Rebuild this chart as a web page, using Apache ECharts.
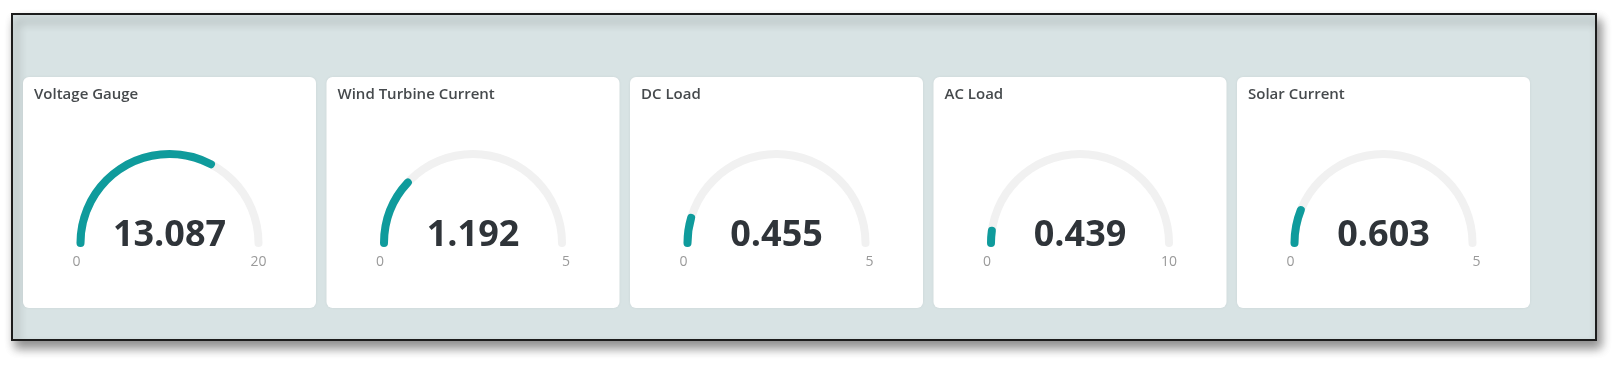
<!DOCTYPE html>
<html>
<head>
<meta charset="utf-8">
<script src="https://cdn.jsdelivr.net/npm/echarts@6/dist/echarts.min.js"></script>
<style>
html,body{margin:0;padding:0;background:#ffffff;}
#chart{width:1617px;height:371px;}
</style>
</head>
<body>
<div id="chart"></div>
<script>
const titles = ['Voltage Gauge', 'Wind Turbine Current', 'DC Load', 'AC Load', 'Solar Current'];
const values = [13.087, 1.192, 0.455, 0.439, 0.603];
const minTicks = [0, 0, 0, 0, 0];
const maxTicks = [20, 5, 5, 10, 5];

const FONT = '"Open Sans", "Noto Sans", sans-serif';
const cardX0 = 23, cardStep = 303.5, cardY = 77, cardW = 293, cardH = 231;
const teal = '#0f9b9c';

const chart = echarts.init(document.getElementById('chart'), null, {renderer: 'canvas'});

const graphics = [
  {type: 'rect', z: 0, shape: {x: 12, y: 14, width: 1584, height: 326},
   style: {fill: '#d8e3e4', stroke: '#1c1c1c', lineWidth: 2,
           shadowBlur: 10, shadowOffsetX: 4, shadowOffsetY: 7, shadowColor: 'rgba(0,0,0,0.45)'}}
];
titles.forEach((t, i) => {
  graphics.push({type: 'rect', z: 1,
    shape: {x: cardX0 + i * cardStep, y: cardY, width: cardW, height: cardH, r: 6},
    style: {fill: '#ffffff', shadowBlur: 3, shadowColor: 'rgba(0,0,0,0.06)'}});
});

const titleComps = titles.map((t, i) => ({
  text: t, left: cardX0 + i * cardStep + 11, top: 87, padding: 0,
  textStyle: {fontFamily: FONT, fontSize: 15, fontWeight: 600, color: '#464a4d'}
}));

const series = values.map((v, i) => ({
  type: 'gauge',
  z: 5,
  center: [cardX0 + i * cardStep + cardW / 2, 243],
  radius: 93,
  startAngle: 180,
  endAngle: 0,
  min: minTicks[i],
  max: maxTicks[i],
  splitNumber: 1,
  pointer: {show: false},
  anchor: {show: false},
  title: {show: false},
  axisTick: {show: false},
  splitLine: {show: false, length: 0, distance: 0},
  axisLine: {roundCap: true, lineStyle: {width: 8, color: [[1, '#f1f1f1']]}},
  progress: {show: true, roundCap: true, width: 8, itemStyle: {color: teal}},
  axisLabel: {
    show: true, distance: -4,
    formatter: (val) => '{s|}\n{v|' + val + '}',
    rich: {
      s: {height: 38, lineHeight: 38},
      v: {color: '#9a9a9a', fontSize: 14, fontFamily: FONT, lineHeight: 16}
    }
  },
  detail: {
    show: true, offsetCenter: [0, -7], valueAnimation: false,
    fontFamily: FONT, fontSize: 36, fontWeight: 'bold', color: '#2f3439',
    formatter: (val) => val.toFixed(3)
  },
  data: [{value: v}]
}));

chart.setOption({
  animation: false,
  backgroundColor: '#ffffff',
  graphic: graphics,
  title: titleComps,
  series: series
});
</script>
</body>
</html>
